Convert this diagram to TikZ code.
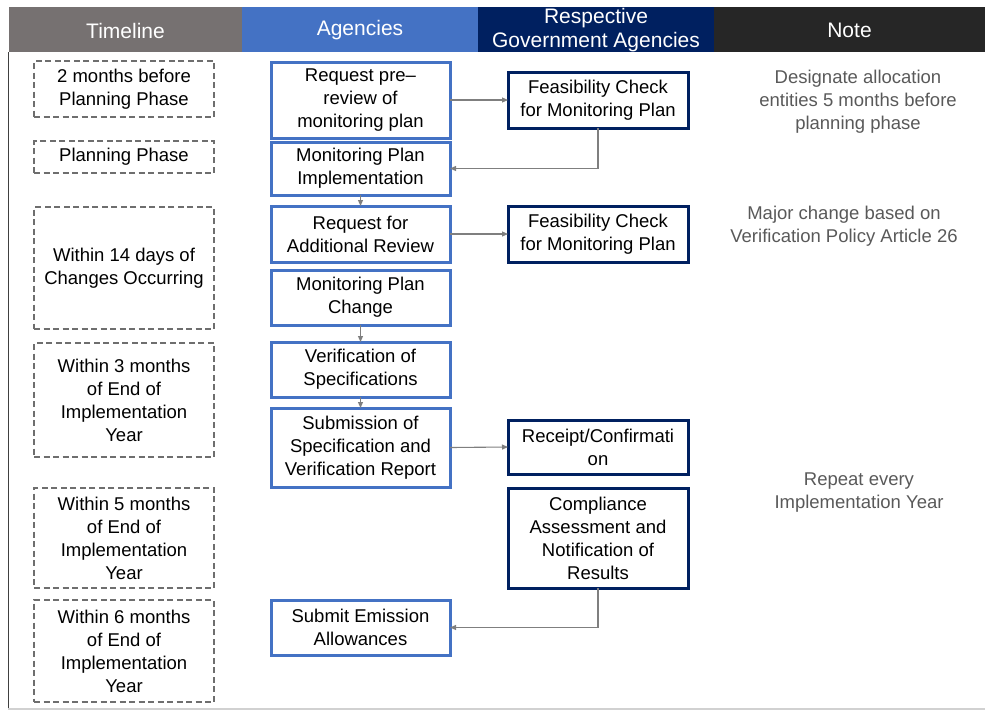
\documentclass[tikz,border=0pt]{standalone}
\usepackage{fontspec}
\setmainfont{Liberation Sans}
\usetikzlibrary{arrows.meta}
\definecolor{hgray}{HTML}{767171}
\definecolor{hblue}{HTML}{4472C4}
\definecolor{hnavy}{HTML}{002060}
\definecolor{hblack}{HTML}{262626}
\definecolor{dgray}{HTML}{6E6E6E}
\definecolor{agray}{HTML}{7F7F7F}
\definecolor{ngray}{HTML}{595959}
\tikzset{
  base/.style={align=center, inner sep=0pt, outer sep=0pt, fill=white,
    font=\fontsize{18.5}{23}\selectfont, text=black},
  tl/.style={base, draw=dgray, line width=2.8pt, dash pattern=on 6pt off 3.5pt},
  ag/.style={base, draw=hblue, line width=3pt, minimum width=179pt},
  gv/.style={base, draw=hnavy, line width=3pt, minimum width=180pt},
  hd/.style={text=white, align=center, font=\fontsize{21}{24}\selectfont},
  nt/.style={align=center, text=ngray, font=\fontsize{18.5}{23}\selectfont},
  arr/.style={draw=agray, line width=1.1pt, -{Triangle[length=6pt,width=5pt]}}
}
\begin{document}
\begin{tikzpicture}[x=1pt,y=-1pt]
\useasboundingbox (0,0) rectangle (985,710);
% header
\fill[hgray] (9,7) rectangle (242,52);
\fill[hblue] (242,7) rectangle (478,52);
\fill[hnavy] (478,7) rectangle (714,52);
\fill[hblack] (714,7) rectangle (985,52);
\node[hd] (h1) at (125.5,30.5) {Timeline};
\node[hd] (h2) at (360,30.5) {Agencies};
\node[hd] (h3) at (596,30.5) {Respective\\Government Agencies};
\node[hd] (h4) at (849.5,30.5) {Note};
% frame lines
\draw[line width=1.5pt, color=black!75] (8.5,52) -- (8.5,710);
\draw[line width=2pt, color=black!18] (8,708.5) -- (985,708.5);
% timeline
\node[tl, minimum width=180pt, minimum height=56pt] (t1) at (124,89) {2 months before\\Planning Phase};
\node[tl, minimum width=180pt, minimum height=32pt] (t2) at (124,157) {Planning Phase};
\node[tl, minimum width=180pt, minimum height=122pt] (t3) at (124,268) {Within 14 days of\\Changes Occurring};
\node[tl, minimum width=180pt, minimum height=114pt] (t4) at (124,400) {Within 3 months\\of End of\\Implementation\\Year};
\node[tl, minimum width=180pt, minimum height=100pt] (t5) at (124,538) {Within 5 months\\of End of\\Implementation\\Year};
\node[tl, minimum width=180pt, minimum height=102pt] (t6) at (124,651) {Within 6 months\\of End of\\Implementation\\Year};
% agencies
\node[ag, minimum height=76pt] (a1) at (360.5,100) {Request pre–\\review of\\monitoring plan};
\node[ag, minimum height=53pt] (a2) at (360.5,168.5) {Monitoring Plan\\Implementation};
\node[ag, minimum height=56pt] (a3) at (360.5,234) {Request for\\Additional Review};
\node[ag, minimum height=55pt] (a4) at (360.5,297.5) {Monitoring Plan\\Change};
\node[ag, minimum height=55pt] (a5) at (360.5,369.5) {Verification of\\Specifications};
\node[ag, minimum height=79pt] (a6) at (360.5,447.5) {Submission of\\Specification and\\Verification Report};
\node[ag, minimum height=55pt] (a7) at (360.5,627.5) {Submit Emission\\Allowances};
% government
\node[gv, minimum height=56pt] (g1) at (598,100) {Feasibility Check\\for Monitoring Plan};
\node[gv, minimum height=56pt] (g2) at (598,234) {Feasibility Check\\for Monitoring Plan};
\node[gv, minimum height=54pt] (g3) at (598,447) {Receipt/Confirmati\\on};
\node[gv, minimum height=100pt] (g4) at (598,538) {Compliance\\Assessment and\\Notification of\\Results};
% notes
\node[nt] (n1) at (858,102) {Designate allocation\\entities 5 months before\\planning phase};
\node[nt] (n2) at (844,226.5) {Major change based on\\Verification Policy Article 26};
\node[nt] (n3) at (859,493) {Repeat every\\Implementation Year};
% connectors
\draw[arr] (a1.east) -- (g1.west);
\draw[arr] (g1.south) |- (a2.east);
\draw[arr] (a2.south) -- (a3.north);
\draw[arr] (a3.east) -- (g2.west);
\draw[arr] (a4.south) -- (a5.north);
\draw[arr] (a5.south) -- (a6.north);
\draw[arr] (a6.east) -- (g3.west);
\draw[arr] (g4.south) |- (a7.east);
\end{tikzpicture}
\end{document}
